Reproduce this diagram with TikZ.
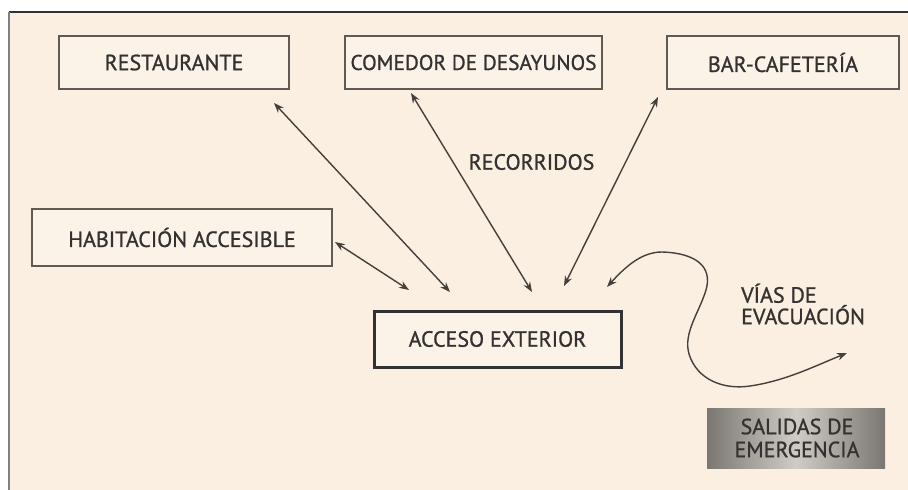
\documentclass[tikz,border=0pt]{standalone}
\usepackage{fontspec}
\setmainfont[FakeBold=1]{PT Sans}
\usetikzlibrary{arrows.meta}
\definecolor{bgc}{RGB}{250,239,224}
\definecolor{boxfill}{RGB}{251,243,232}
\definecolor{boxline}{RGB}{95,90,84}
\definecolor{txt}{RGB}{52,50,48}
\definecolor{arrc}{RGB}{68,64,60}
\definecolor{frame}{RGB}{50,50,50}
\definecolor{frameL}{RGB}{130,128,125}
\definecolor{gdark}{RGB}{122,119,114}
\definecolor{glight}{RGB}{208,204,197}
\tikzset{
  lbl/.style={text=txt, font=\fontsize{22}{23}\selectfont, inner sep=0pt},
  roombox/.style={draw=boxline, line width=1.5pt, fill=boxfill, text=txt,
    font=\fontsize{22}{23}\selectfont, inner sep=0pt, anchor=center},
  accbox/.style={roombox, draw=frame, line width=3pt},
  dbl/.style={draw=arrc, line width=1.4pt, {Stealth[length=10pt,width=7.5pt]}-{Stealth[length=10pt,width=7.5pt]}}
}
\begin{document}
\begin{tikzpicture}[x=1pt,y=-1pt]
\useasboundingbox (0,0) rectangle (908,490);
\fill[white] (0,0) rectangle (908,490);
\fill[bgc] (9,12) rectangle (908,490);
\draw[frame, line width=1.5pt] (8.5,12) -- (908,12);
\draw[frameL, line width=1.5pt] (9,12) -- (9,490);
% boxes
\node[roombox, minimum width=230pt, minimum height=53pt] (rest) at (174,62.5) {RESTAURANTE};
\node[roombox, minimum width=257pt, minimum height=53pt, font=\fontsize{21.3}{22}\selectfont] (com) at (473.5,62.5) {COMEDOR DE DESAYUNOS};
\node[roombox, minimum width=232pt, minimum height=53pt] (bar) at (783,62.5) {BAR-CAFETERÍA};
\node[roombox, minimum width=300pt, minimum height=57pt] (hab) at (182,237.5) {HABITACIÓN ACCESIBLE};
\node[accbox, minimum width=247pt, minimum height=56pt] (acc) at (497.5,339) {ACCESO EXTERIOR};
\shade[left color=gdark, right color=gdark, middle color=glight] (707,408) rectangle (885,468);
\node[lbl, align=center, font=\fontsize{22}{23}\selectfont] (sal) at (797,438) {SALIDAS DE\\EMERGENCIA};
\node[lbl] (rec) at (531.5,162) {RECORRIDOS};
\node[lbl, align=left, anchor=west, font=\fontsize{22}{21.5}\selectfont] (vias) at (741,304) {VÍAS DE\\EVACUACIÓN};
% arrow ends
\coordinate (r1) at (274,103); \coordinate (r2) at (450,292);
\coordinate (c1) at (411,93);  \coordinate (c2) at (532,292);
\coordinate (b1) at (658,97);  \coordinate (b2) at (564,286);
\coordinate (h1) at (335,242); \coordinate (h2) at (409,290);
\coordinate (e1) at (607,287); \coordinate (e2) at (847,353);
\draw[dbl] (r1) -- (r2);
\draw[dbl] (c1) -- (c2);
\draw[dbl] (b1) -- (b2);
\draw[dbl] (h1) -- (h2);
\draw[dbl] (e1) .. controls (626,266) and (642,252) .. (662,252)
  .. controls (695,253) and (713,266) .. (706,290)
  .. controls (699,313) and (683,333) .. (689,354)
  .. controls (697,380) and (724,390) .. (750,386)
  .. controls (785,381) and (815,366) .. (e2);
\end{tikzpicture}
\end{document}
